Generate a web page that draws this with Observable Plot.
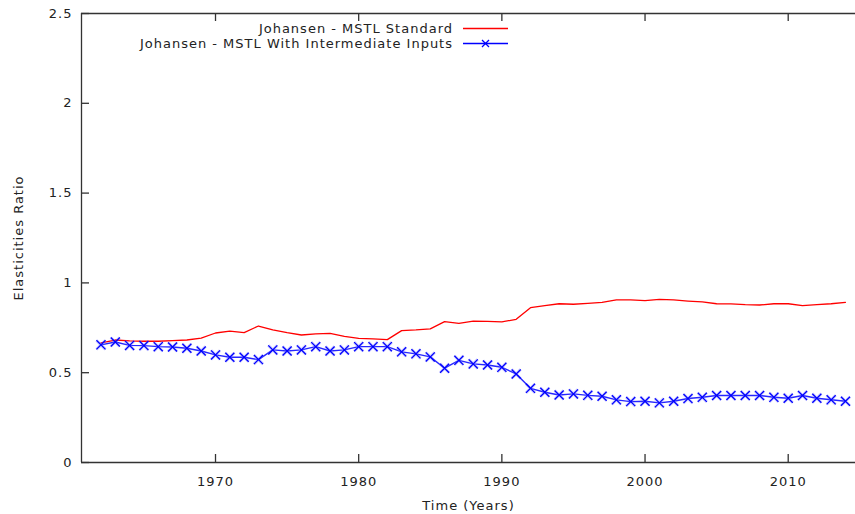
<!DOCTYPE html>
<html><head><meta charset="utf-8">
<script src="https://cdn.jsdelivr.net/npm/d3@7"></script>
<script src="https://cdn.jsdelivr.net/npm/@observablehq/plot@0.6"></script>
<style>
html,body{margin:0;padding:0;background:#fff;}
#wrap{position:relative;width:855px;height:514px;font-family:"DejaVu Sans",sans-serif;color:#222;}
#legend{position:absolute;left:0;top:21px;width:453px;text-align:right;font-size:13px;letter-spacing:1px;line-height:15px;white-space:nowrap;}
#legsvg{position:absolute;left:461px;top:21px;}
</style></head><body><div id="wrap"></div>
<script>
const years = [1962,1963,1964,1965,1966,1967,1968,1969,1970,1971,1972,1973,1974,1975,1976,1977,1978,1979,1980,1981,1982,1983,1984,1985,1986,1987,1988,1989,1990,1991,1992,1993,1994,1995,1996,1997,1998,1999,2000,2001,2002,2003,2004,2005,2006,2007,2008,2009,2010,2011,2012,2013,2014];
const standard = [0.666,0.682,0.677,0.675,0.675,0.679,0.682,0.693,0.721,0.732,0.723,0.760,0.738,0.723,0.710,0.716,0.719,0.702,0.691,0.688,0.684,0.734,0.738,0.744,0.784,0.775,0.787,0.786,0.783,0.797,0.862,0.873,0.884,0.881,0.886,0.892,0.905,0.905,0.901,0.908,0.905,0.899,0.894,0.884,0.883,0.879,0.877,0.884,0.884,0.873,0.879,0.884,0.892];
const intermediate = [0.655,0.671,0.652,0.651,0.645,0.643,0.636,0.621,0.599,0.586,0.586,0.573,0.627,0.621,0.627,0.645,0.621,0.627,0.645,0.645,0.645,0.616,0.605,0.588,0.525,0.569,0.549,0.543,0.530,0.493,0.413,0.391,0.376,0.382,0.374,0.369,0.349,0.339,0.341,0.332,0.341,0.356,0.363,0.373,0.373,0.373,0.373,0.363,0.358,0.373,0.358,0.349,0.341];
const seriesNames = ["Johansen - MSTL Standard","Johansen - MSTL With Intermediate Inputs"];
const seriesColors = ["#ff0000","#0000ff"];
const xTicks = [1970,1980,1990,2000,2010];
const yTicks = [0,0.5,1,1.5,2,2.5];
const xDomain = [1960.64, 2014.7];
const yDomain = [0, 2.5];
const xTitle = "Time (Years)";
const yTitle = "Elasticities Ratio";

const rowsA = years.map((y,i)=>({year:y, v:standard[i]}));
const rowsB = years.map((y,i)=>({year:y, v:intermediate[i]}));

const W = 855, H = 514, mL = 81, mR = 0, mT = 13, mB = 52, tick = 8;
const plotW = W - mL - mR, plotH = H - mT - mB;

const chart = Plot.plot({
  width: W, height: H,
  marginLeft: mL, marginRight: mR, marginTop: mT, marginBottom: mB,
  style: {fontFamily: "DejaVu Sans, sans-serif", fontSize: "13px", letterSpacing: "1px", color: "#222", background: "#fff", overflow: "visible"},
  x: {domain: xDomain},
  y: {domain: yDomain},
  marks: [
    Plot.axisX({ticks: xTicks, tickSize: 0, tickPadding: 14, tickFormat: d => String(d), label: xTitle, labelAnchor: "center", labelArrow: "none", labelOffset: 47}),
    Plot.axisY({ticks: yTicks, tickSize: 0, tickPadding: 9, tickFormat: d3.format("~g"), label: yTitle, labelAnchor: "center", labelArrow: "none", labelOffset: 68}),
    // inward tick marks (bottom, top, left)
    Plot.ruleX(xTicks, {insetTop: plotH - tick, stroke: "#333", strokeWidth: 1.3}),
    Plot.ruleX(xTicks, {insetBottom: plotH - tick, stroke: "#333", strokeWidth: 1.3}),
    Plot.ruleY(yTicks, {insetRight: plotW - tick, stroke: "#333", strokeWidth: 1.3}),
    // border
    Plot.ruleY(yDomain, {stroke: "#333", strokeWidth: 1.3}),
    Plot.ruleX([xDomain[0]], {stroke: "#333", strokeWidth: 1.3}),
    Plot.line(rowsA, {x: "year", y: "v", stroke: seriesColors[0], strokeWidth: 1.3}),
    Plot.line(rowsB, {x: "year", y: "v", stroke: seriesColors[1], strokeWidth: 1.4, strokeOpacity: 0.85}),
    Plot.dot(rowsB, {x: "year", y: "v", symbol: "times", r: 4.2, stroke: "#7777ff", strokeWidth: 3, strokeOpacity: 0.35}),
    Plot.dot(rowsB, {x: "year", y: "v", symbol: "times", r: 4.2, stroke: seriesColors[1], strokeWidth: 1.3})
  ]
});
const wrap = document.getElementById("wrap");
wrap.appendChild(chart);

const leg = document.createElement("div");
leg.id = "legend";
leg.innerHTML = seriesNames.map(n => `<div>${n}</div>`).join("");
wrap.appendChild(leg);

const ns = "http://www.w3.org/2000/svg";
const ls = document.createElementNS(ns, "svg");
ls.setAttribute("id", "legsvg");
ls.setAttribute("width", 50); ls.setAttribute("height", 30);
seriesColors.forEach((c, i) => {
  const yy = 7.5 + i * 15;
  const l = document.createElementNS(ns, "line");
  l.setAttribute("x1", 2); l.setAttribute("x2", 47); l.setAttribute("y1", yy); l.setAttribute("y2", yy);
  l.setAttribute("stroke", c); l.setAttribute("stroke-width", 1.3);
  ls.appendChild(l);
  if (i === 1) {
    const p = document.createElementNS(ns, "path");
    p.setAttribute("d", `M21,${yy-3.5}L28,${yy+3.5}M21,${yy+3.5}L28,${yy-3.5}`);
    p.setAttribute("stroke", c); p.setAttribute("stroke-width", 1.3);
    ls.appendChild(p);
  }
});
wrap.appendChild(ls);
</script>
</body></html>
